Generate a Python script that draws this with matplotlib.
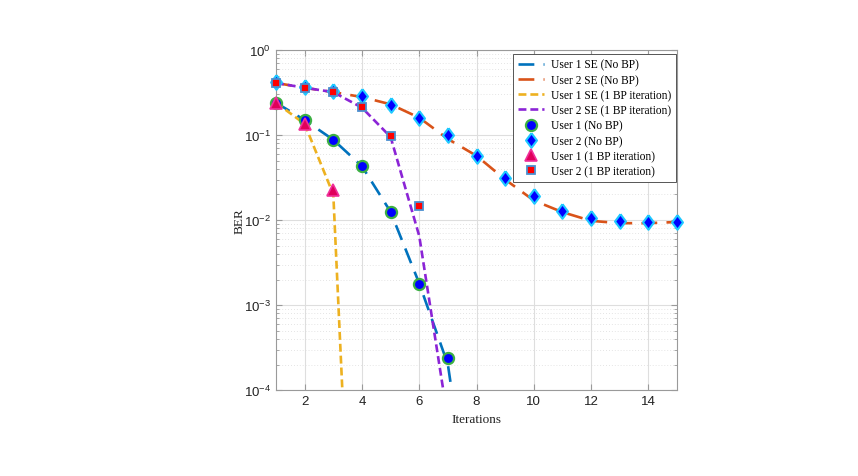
import matplotlib
matplotlib.use("Agg")
import matplotlib.pyplot as plt
import numpy as np
from matplotlib.ticker import LogLocator, NullFormatter, FixedLocator

# ---- data ----
iters = [1, 2, 3, 4, 5, 6, 7, 8, 9, 10, 11, 12, 13, 14, 15]

u1_se_nobp_x = [1, 2, 3, 4, 5, 6, 7, 8]
u1_se_nobp = [0.24, 0.15, 0.088, 0.043, 0.0125, 0.0018, 0.0002, 1e-6]

u2_se_nobp = [0.41, 0.36, 0.32, 0.28, 0.23, 0.16, 0.09, 0.057, 0.030,
              0.017, 0.0124, 0.0098, 0.0092, 0.0092, 0.0095]

u1_se_bp_x = [1, 2, 3, 4]
u1_se_bp = [0.24, 0.135, 0.02, 1e-9]

u2_se_bp_x = [1, 2, 3, 4, 5, 6, 7]
u2_se_bp = [0.41, 0.36, 0.32, 0.21, 0.095, 0.0065, 4.5e-5]

u1_sim_nobp_x = [1, 2, 3, 4, 5, 6, 7]
u1_sim_nobp = [0.24, 0.151, 0.088, 0.0428, 0.0123, 0.00177, 0.00024]

u2_sim_nobp = [0.417, 0.364, 0.332, 0.285, 0.225, 0.158, 0.100, 0.057, 0.031,
               0.019, 0.0129, 0.0105, 0.0098, 0.0096, 0.0095]

u1_sim_bp_x = [1, 2, 3]
u1_sim_bp = [0.238, 0.135, 0.0228]

u2_sim_bp_x = [1, 2, 3, 4, 5, 6]
u2_sim_bp = [0.41, 0.36, 0.32, 0.212, 0.0966, 0.0147]

labels = ["User 1 SE (No BP)", "User 2 SE (No BP)", "User 1 SE (1 BP iteration)",
          "User 2 SE (1 BP iteration)", "User 1 (No BP)", "User 2 (No BP)",
          "User 1 (1 BP iteration)", "User 2 (1 BP iteration)"]

xticks = [2, 4, 6, 8, 10, 12, 14]

# ---- figure ----
plt.rcParams['font.family'] = ['Liberation Sans', 'DejaVu Sans']
plt.rcParams['mathtext.fontset'] = 'custom'
plt.rcParams['mathtext.rm'] = 'Liberation Sans'
plt.rcParams['mathtext.it'] = 'Liberation Sans:italic'

fig = plt.figure(figsize=(8.58, 4.77), dpi=100)
ax = fig.add_axes([0.3217, 0.180, 0.4674, 0.713])

lw = 1.9
c_blue = '#0072BD'
c_orange = '#D95319'
c_yellow = '#EDB120'
c_purple = '#8B24D6'

diamond = [(0, 1), (0.75, 0), (0, -1), (-0.75, 0), (0, 1)]

l1, = ax.plot(u1_se_nobp_x, u1_se_nobp, color=c_blue, lw=lw, dashes=(6, 3.5))
l2, = ax.plot(iters, u2_se_nobp, color=c_orange, lw=lw, dashes=(6, 3.5))
l3, = ax.plot(u1_se_bp_x, u1_se_bp, color=c_yellow, lw=lw, dashes=(3, 1.5))
l4, = ax.plot(u2_se_bp_x, u2_se_bp, color=c_purple, lw=lw, dashes=(3, 1.5))

m1, = ax.plot(u1_sim_nobp_x, u1_sim_nobp, ls='none', marker='o', ms=8,
              mfc='#0000FF', mec='#3CB043', mew=1.6, clip_on=False, zorder=4)
m2, = ax.plot(iters, u2_sim_nobp, ls='none', marker=diamond, ms=10.5,
              mfc='#0000FF', mec='#1EC8FF', mew=1.5, clip_on=False, zorder=4)
m3, = ax.plot(u1_sim_bp_x, u1_sim_bp, ls='none', marker='^', ms=9,
              mfc='#E0005A', mec='#F0309A', mew=1.2, clip_on=False, zorder=5)
m4, = ax.plot(u2_sim_bp_x, u2_sim_bp, ls='none', marker='s', ms=6,
              mfc='#FF0000', mec='#4A8FD0', mew=1.3, clip_on=False, zorder=5)

ax.set_yscale('log')
ax.set_xlim(1, 15)
ax.set_ylim(1e-4, 1)
ax.xaxis.set_major_locator(FixedLocator(xticks))
ax.yaxis.set_major_locator(LogLocator(base=10, numticks=10))
ax.yaxis.set_minor_locator(LogLocator(base=10, subs=np.arange(2, 10), numticks=20))
ax.yaxis.set_minor_formatter(NullFormatter())

ax.grid(True, which='major', color='#dedede', lw=0.8, ls='-')
ax.grid(True, which='minor', axis='y', color='#dcdcdc', lw=0.6, ls=(0, (1, 2.5)))
ax.set_axisbelow(True)

for s in ax.spines.values():
    s.set_color('#9a9a9a')
    s.set_linewidth(0.8)
ax.tick_params(which='both', direction='in', top=True, right=True,
               colors='#9a9a9a', labelcolor='#222222', labelsize=9.5)
ax.tick_params(which='major', length=4)
ax.tick_params(which='minor', length=2)

serif = ['Liberation Serif', 'DejaVu Serif']
ax.set_xlabel('Iterations', family=serif, fontsize=9.5, color='#222222')
ax.set_ylabel('BER', family=serif, fontsize=9.5, color='#222222', labelpad=-1)

leg = ax.legend([l1, l2, l3, l4, m1, m2, m3, m4], labels,
                loc='upper right', bbox_to_anchor=(0.998, 0.988),
                borderaxespad=0, fancybox=False, framealpha=1,
                edgecolor='#555555', handlelength=2.3, handletextpad=0.6,
                labelspacing=0.28, borderpad=0.4,
                prop={'family': serif, 'size': 8.3})
leg.get_frame().set_linewidth(0.7)
leg.set_zorder(10)

fig.savefig('out.png', dpi=100)
